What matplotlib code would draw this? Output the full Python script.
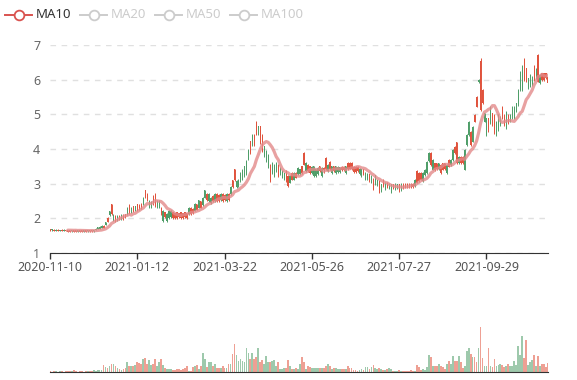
import numpy as np
import pandas as pd
import matplotlib
matplotlib.use("Agg")
import matplotlib.pyplot as plt
from matplotlib.lines import Line2D

plt.rcParams['font.family'] = ['Noto Sans', 'DejaVu Sans']

# daily candles (open, close, low, high)
opens = [
    1.64, 1.68, 1.64, 1.67, 1.64, 1.66, 1.64, 1.67, 1.64, 1.62,
    1.62, 1.66, 1.62, 1.62, 1.65, 1.62, 1.62, 1.65, 1.62, 1.66,
    1.63, 1.63, 1.66, 1.70, 1.74, 1.76, 1.78, 1.72, 1.89, 1.90,
    2.20, 2.12, 2.10, 1.92, 2.08, 1.98, 2.10, 1.98, 2.05, 2.30,
    2.15, 2.30, 2.20, 2.35, 2.22, 2.25, 2.28, 2.60, 2.60, 2.52,
    2.50, 2.48, 2.41, 2.36, 2.50, 2.50, 2.12, 2.22, 2.03, 2.12,
    2.22, 2.22, 2.01, 2.01, 2.01, 2.03, 2.01, 2.01, 2.03, 2.01,
    2.30, 2.12, 2.15, 2.41, 2.25, 2.52, 2.31, 2.60, 2.81, 2.52,
    2.70, 2.60, 2.49, 2.70, 2.50, 2.50, 2.70, 2.50, 2.52, 2.70,
    2.52, 2.90, 2.90, 3.10, 3.08, 3.12, 3.31, 3.40, 3.50, 3.65,
    3.98, 3.89, 4.41, 4.12, 4.41, 4.65, 4.17, 3.93, 4.08, 3.95,
    3.84, 3.08, 3.60, 3.55, 3.60, 3.22, 3.45, 3.36, 3.30, 3.08,
    2.93, 3.22, 3.12, 3.31, 3.17, 3.45, 3.41, 3.30, 3.55, 3.60,
    3.36, 3.31, 3.48, 3.50, 3.41, 3.45, 3.36, 3.45, 3.39, 3.41,
    3.55, 3.41, 3.50, 3.36, 3.50, 3.48, 3.47, 3.38, 3.38, 3.50,
    3.41, 3.43, 3.41, 3.33, 3.33, 3.36, 3.43, 3.41, 3.27, 3.31,
    3.28, 3.08, 3.22, 2.84, 3.24, 3.10, 2.74, 2.98, 2.93, 3.03,
    2.89, 3.00, 2.98, 2.86, 3.00, 2.98, 2.79, 3.00, 2.86, 2.89,
    2.89, 2.89, 2.89, 2.90, 3.12, 3.03, 3.08, 3.12, 3.31, 3.40,
    3.63, 3.88, 3.54, 3.68, 3.39, 3.42, 3.59, 3.30, 3.40, 3.42,
    3.54, 3.49, 3.68, 3.97, 3.88, 3.59, 3.78, 3.59, 3.59, 3.97,
    4.40, 4.79, 4.12, 4.64, 4.79, 5.22, 5.99, 5.13, 5.32, 5.03,
    4.88, 4.50, 5.22, 4.69, 4.45, 4.79, 4.98, 4.93, 4.88, 4.69,
    5.08, 4.74, 4.98, 5.22, 5.22, 5.32, 5.70, 6.23, 6.40, 5.99,
    5.94, 6.04, 6.13, 6.09, 5.99, 6.31, 5.94, 6.13, 5.99, 5.99,
    6.04, 5.89,
]
closes = [
    1.68, 1.65, 1.67, 1.64, 1.67, 1.64, 1.67, 1.64, 1.67, 1.66,
    1.66, 1.63, 1.66, 1.65, 1.62, 1.66, 1.65, 1.62, 1.66, 1.63,
    1.66, 1.66, 1.63, 1.66, 1.69, 1.70, 1.72, 1.78, 1.82, 2.02,
    2.10, 2.40, 1.95, 2.08, 1.95, 2.08, 1.97, 2.10, 2.12, 2.12,
    2.38, 2.18, 2.35, 2.22, 2.40, 2.38, 2.42, 2.41, 2.81, 2.71,
    2.31, 2.31, 2.65, 2.70, 2.33, 2.31, 2.31, 1.91, 2.17, 1.91,
    2.01, 2.03, 2.17, 2.14, 2.17, 2.14, 2.17, 2.14, 2.17, 2.14,
    2.12, 2.31, 2.27, 2.22, 2.40, 2.31, 2.49, 2.38, 2.60, 2.71,
    2.49, 2.43, 2.65, 2.50, 2.70, 2.68, 2.52, 2.70, 2.68, 2.50,
    2.70, 2.70, 3.10, 3.41, 2.89, 2.93, 3.08, 3.12, 3.22, 3.27,
    3.70, 4.22, 4.12, 4.41, 4.79, 4.41, 4.65, 4.41, 3.79, 3.65,
    3.46, 3.55, 3.31, 3.22, 3.36, 3.55, 3.27, 3.17, 3.12, 3.36,
    3.22, 3.03, 3.31, 3.12, 3.31, 3.27, 3.27, 3.50, 3.89, 3.36,
    3.55, 3.50, 3.30, 3.22, 3.22, 3.27, 3.50, 3.22, 3.45, 3.74,
    3.36, 3.62, 3.31, 3.50, 3.31, 3.33, 3.34, 3.49, 3.49, 3.31,
    3.60, 3.60, 3.60, 3.49, 3.49, 3.49, 3.27, 3.22, 3.41, 3.12,
    3.14, 3.27, 3.03, 3.14, 2.98, 2.95, 3.08, 2.79, 3.12, 2.84,
    3.03, 2.86, 2.74, 2.98, 2.84, 2.86, 2.98, 2.82, 3.00, 3.00,
    3.00, 3.00, 3.00, 3.00, 2.93, 3.36, 3.31, 3.31, 3.08, 3.25,
    3.31, 3.65, 3.88, 3.40, 3.59, 3.59, 3.42, 3.54, 3.59, 3.59,
    3.30, 3.68, 3.54, 3.68, 4.07, 4.19, 3.59, 3.78, 3.78, 3.40,
    4.12, 4.40, 4.50, 4.21, 4.98, 5.51, 5.92, 6.55, 5.70, 4.79,
    4.40, 4.88, 4.74, 5.03, 4.98, 4.40, 4.55, 4.69, 5.22, 4.98,
    4.60, 4.98, 4.79, 4.88, 4.88, 5.08, 5.27, 5.70, 5.70, 6.60,
    6.33, 5.75, 5.80, 5.85, 6.40, 6.04, 6.71, 5.89, 6.18, 6.18,
    6.18, 6.09,
]
lows = [
    1.63, 1.63, 1.63, 1.63, 1.63, 1.63, 1.63, 1.63, 1.63, 1.61,
    1.61, 1.62, 1.61, 1.61, 1.61, 1.61, 1.61, 1.61, 1.61, 1.62,
    1.62, 1.62, 1.62, 1.65, 1.68, 1.69, 1.71, 1.71, 1.81, 1.89,
    2.08, 2.10, 1.93, 1.90, 1.93, 1.96, 1.95, 1.96, 2.02, 2.10,
    2.12, 2.15, 2.18, 2.20, 2.20, 2.23, 2.26, 2.39, 2.58, 2.50,
    2.29, 2.29, 2.39, 2.34, 2.31, 2.29, 2.10, 1.89, 2.01, 1.89,
    1.99, 2.01, 1.99, 1.99, 1.99, 2.01, 1.99, 1.99, 2.01, 1.99,
    2.10, 2.10, 2.13, 2.20, 2.23, 2.29, 2.29, 2.36, 2.58, 2.50,
    2.47, 2.41, 2.47, 2.48, 2.48, 2.48, 2.50, 2.48, 2.50, 2.48,
    2.50, 2.68, 2.88, 3.08, 2.87, 2.91, 3.06, 3.10, 3.20, 3.25,
    3.68, 3.87, 4.10, 4.10, 4.39, 4.39, 4.15, 3.91, 3.77, 3.63,
    3.44, 3.06, 3.29, 3.20, 3.34, 3.20, 3.25, 3.15, 3.10, 3.06,
    2.91, 3.01, 3.10, 3.10, 3.15, 3.25, 3.25, 3.28, 3.53, 3.34,
    3.34, 3.29, 3.28, 3.20, 3.20, 3.25, 3.34, 3.20, 3.30, 3.39,
    3.34, 3.39, 3.29, 3.34, 3.29, 3.31, 3.32, 3.36, 3.36, 3.29,
    3.39, 3.41, 3.39, 3.31, 3.31, 3.34, 3.25, 3.20, 3.25, 3.10,
    3.12, 3.06, 3.01, 2.82, 2.96, 2.93, 2.72, 2.77, 2.91, 2.82,
    2.87, 2.84, 2.72, 2.84, 2.82, 2.84, 2.77, 2.80, 2.84, 2.87,
    2.87, 2.87, 2.87, 2.88, 2.91, 3.01, 3.06, 3.10, 3.06, 3.23,
    3.29, 3.63, 3.52, 3.38, 3.37, 3.40, 3.40, 3.28, 3.38, 3.40,
    3.28, 3.47, 3.52, 3.66, 3.86, 3.57, 3.57, 3.57, 3.57, 3.38,
    4.10, 4.38, 4.10, 4.19, 4.77, 5.20, 5.90, 5.11, 5.30, 4.77,
    4.38, 4.48, 4.72, 4.67, 4.43, 4.38, 4.53, 4.67, 4.86, 4.67,
    4.58, 4.72, 4.77, 4.86, 4.86, 5.06, 5.25, 5.68, 5.68, 5.97,
    5.92, 5.73, 5.78, 5.83, 5.97, 6.02, 5.92, 5.87, 5.97, 5.97,
    6.02, 5.87,
]
highs = [
    1.69, 1.68, 1.68, 1.68, 1.68, 1.67, 1.68, 1.68, 1.67, 1.66,
    1.66, 1.66, 1.66, 1.66, 1.66, 1.66, 1.66, 1.66, 1.66, 1.67,
    1.67, 1.67, 1.67, 1.71, 1.76, 1.78, 1.80, 1.80, 1.90, 2.03,
    2.21, 2.42, 2.12, 2.10, 2.10, 2.10, 2.12, 2.12, 2.13, 2.32,
    2.40, 2.32, 2.36, 2.37, 2.42, 2.40, 2.44, 2.62, 2.83, 2.73,
    2.52, 2.50, 2.67, 2.72, 2.52, 2.52, 2.33, 2.24, 2.19, 2.14,
    2.24, 2.24, 2.19, 2.16, 2.19, 2.16, 2.19, 2.16, 2.19, 2.16,
    2.32, 2.33, 2.29, 2.43, 2.42, 2.54, 2.51, 2.62, 2.83, 2.73,
    2.72, 2.62, 2.67, 2.72, 2.72, 2.70, 2.72, 2.72, 2.70, 2.72,
    2.72, 2.92, 3.12, 3.43, 3.10, 3.14, 3.33, 3.42, 3.52, 3.67,
    4.00, 4.24, 4.43, 4.43, 4.81, 4.67, 4.67, 4.43, 4.10, 3.97,
    3.86, 3.57, 3.62, 3.57, 3.62, 3.57, 3.47, 3.38, 3.32, 3.38,
    3.24, 3.24, 3.33, 3.33, 3.33, 3.47, 3.43, 3.52, 3.91, 3.62,
    3.57, 3.52, 3.50, 3.52, 3.43, 3.47, 3.52, 3.47, 3.47, 3.76,
    3.57, 3.64, 3.52, 3.52, 3.52, 3.50, 3.49, 3.51, 3.51, 3.52,
    3.62, 3.62, 3.62, 3.51, 3.51, 3.51, 3.45, 3.43, 3.43, 3.33,
    3.30, 3.29, 3.24, 3.16, 3.26, 3.12, 3.10, 3.00, 3.14, 3.05,
    3.05, 3.02, 3.00, 3.00, 3.02, 3.00, 3.00, 3.02, 3.02, 3.02,
    3.02, 3.02, 3.02, 3.02, 3.14, 3.38, 3.33, 3.33, 3.33, 3.42,
    3.65, 3.90, 3.90, 3.70, 3.61, 3.61, 3.61, 3.56, 3.61, 3.61,
    3.56, 3.70, 3.70, 3.99, 4.09, 4.21, 3.80, 3.80, 3.80, 3.99,
    4.42, 4.81, 4.52, 4.66, 5.00, 5.53, 6.01, 6.62, 5.72, 5.05,
    4.90, 4.90, 5.24, 5.05, 5.00, 4.81, 5.00, 4.95, 5.24, 5.00,
    5.10, 5.00, 5.00, 5.24, 5.24, 5.34, 5.72, 6.25, 6.42, 6.62,
    6.35, 6.06, 6.15, 6.11, 6.42, 6.33, 6.73, 6.15, 6.20, 6.20,
    6.20, 6.11,
]
volumes = [
    2, 1, 3, 2, 1, 4, 2, 1, 4, 4,
    2, 3, 7, 2, 1, 2, 2, 1, 3, 2,
    4, 3, 6, 3, 5, 7, 6, 22, 14, 12,
    20, 24, 25, 20, 12, 10, 5, 8, 12, 30,
    20, 18, 20, 22, 30, 28, 25, 40, 42, 25,
    37, 22, 25, 40, 20, 30, 40, 22, 12, 10,
    8, 10, 6, 5, 8, 8, 5, 10, 12, 18,
    3, 3, 15, 18, 22, 10, 20, 57, 40, 15,
    30, 30, 20, 25, 12, 12, 12, 20, 12, 12,
    25, 25, 55, 85, 52, 35, 40, 35, 30, 75,
    60, 40, 58, 40, 45, 73, 30, 38, 25, 50,
    30, 30, 35, 38, 20, 30, 10, 10, 12, 12,
    37, 20, 10, 10, 12, 10, 25, 47, 30, 8,
    18, 15, 12, 12, 12, 12, 12, 12, 12, 20,
    25, 18, 10, 12, 12, 8, 10, 10, 8, 10,
    18, 12, 12, 6, 5, 4, 5, 8, 6, 15,
    15, 10, 15, 22, 12, 8, 12, 8, 5, 5,
    8, 12, 10, 4, 3, 3, 5, 3, 4, 3,
    2, 3, 5, 4, 3, 22, 15, 5, 10, 5,
    15, 53, 45, 18, 18, 18, 25, 18, 15, 8,
    25, 35, 25, 48, 35, 35, 48, 30, 12, 20,
    65, 75, 55, 45, 45, 30, 75, 140, 42, 20,
    20, 75, 20, 15, 40, 20, 22, 25, 22, 15,
    20, 25, 20, 18, 35, 22, 80, 52, 110, 42,
    100, 22, 30, 38, 52, 18, 48, 20, 25, 25,
    15, 28,
]

tick_pos = [0, 44, 88, 132, 176, 220]
tick_labels = ['2020-11-10', '2021-01-12', '2021-03-22',
               '2021-05-26', '2021-07-27', '2021-09-29']
legend_names = ['MA10', 'MA20', 'MA50', 'MA100']

up_color = '#e0533d'
down_color = '#4f9e69'
ma_color = '#e38a8a'

W, H = 577, 380
fig = plt.figure(figsize=(W / 100, H / 100), dpi=100)
ax = fig.add_axes([50 / W, 1 - 253 / H, 498 / W, 208 / H])
axv = fig.add_axes([50 / W, 8 / H, 498 / W, 52 / H])

o = np.array(opens)
c = np.array(closes)
x = np.arange(len(c))
cols = np.where(c >= o, up_color, down_color)

# candles
ax.vlines(x, lows, highs, colors=cols, lw=0.7, zorder=3)
ax.bar(x, np.abs(c - o), bottom=np.minimum(o, c), width=0.6,
       color=cols, linewidth=0, zorder=3)

# MA10 from the closes
ma10 = pd.Series(closes).rolling(10).mean()
ax.plot(x, ma10, color=ma_color, lw=2.3, alpha=0.8, zorder=4,
        solid_capstyle='round')

ax.set_xlim(0, len(c) - 1)
ax.set_ylim(1, 7)
ax.set_yticks(range(1, 8))
ax.yaxis.grid(True, color='#e0e0e0', linestyle=(0, (4, 4)), lw=1)
ax.set_axisbelow(True)
for s in ['top', 'right', 'left']:
    ax.spines[s].set_visible(False)
ax.spines['bottom'].set_color('#333333')
ax.spines['bottom'].set_zorder(5)
ax.set_xticks(tick_pos)
ax.set_xticklabels(tick_labels)
ax.tick_params(axis='y', length=0, labelsize=9, labelcolor='#666666', pad=7)
ax.tick_params(axis='x', length=4, width=1, color='#333333', labelsize=9,
               labelcolor='#555555', pad=2)

# volume
axv.bar(x, volumes, width=0.9, color=cols, alpha=0.55, linewidth=0)
axv.set_xlim(0, len(c) - 1)
axv.set_ylim(0, 160)
for s in ['top', 'right', 'left']:
    axv.spines[s].set_visible(False)
axv.spines['bottom'].set_color('#333333')
axv.set_xticks([])
axv.set_yticks([])

# legend (only MA10 is active)
leg_x = [5, 80, 155, 230]
for i, name in enumerate(legend_names):
    col = '#d9534f' if i == 0 else '#cccccc'
    tcol = '#333333' if i == 0 else '#cccccc'
    x0 = leg_x[i]
    y0 = 1 - 15 / H
    fig.add_artist(Line2D([x0 / W, (x0 + 27) / W], [y0, y0], color=col,
                          lw=1.4, transform=fig.transFigure))
    fig.add_artist(Line2D([(x0 + 13.5) / W], [y0], marker='o', markersize=7,
                          markerfacecolor='white', markeredgecolor=col,
                          markeredgewidth=1.3, transform=fig.transFigure))
    fig.text((x0 + 31) / W, y0, name, color=tcol, fontsize=9.5,
             va='center', ha='left')

fig.savefig('out.png', dpi=100)
